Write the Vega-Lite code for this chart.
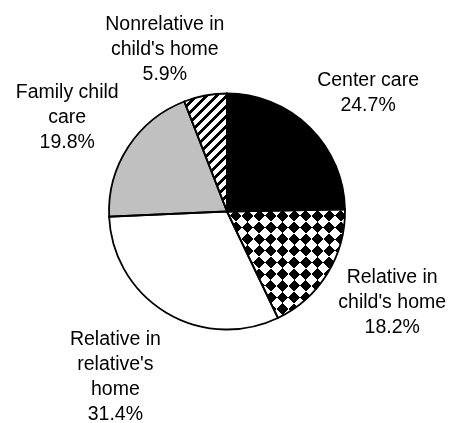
{
  "$schema": "https://vega.github.io/schema/vega-lite/v6.json",
  "width": 448,
  "height": 423,
  "padding": {"left": 3, "right": 0, "top": 0, "bottom": 0},
  "autosize": {"type": "none"},
  "background": "white",
  "view": {"stroke": null},
  "config": {"text": {"font": "Liberation Sans"}},
  "data": {
    "values": [
      {"label": "Center care", "pct": 24.7, "order": 1},
      {"label": "Relative in|child's home", "pct": 18.2, "order": 2},
      {"label": "Relative in|relative's|home", "pct": 31.4, "order": 3},
      {"label": "Family child|care", "pct": 19.8, "order": 4},
      {"label": "Nonrelative in|child's home", "pct": 5.9, "order": 5}
    ]
  },
  "transform": [
    {"stack": "pct", "groupby": [], "sort": [{"field": "order", "order": "ascending"}], "as": ["t0", "t1"]},
    {"calculate": "(datum.t0 + datum.t1) / 2", "as": "mid"},
    {"calculate": "datum.label + '|' + format(datum.pct, '.1f') + '%'", "as": "txt"}
  ],
  "layer": [
    {
      "mark": {
        "type": "arc", "radius": 118, "strokeWidth": 0,
        "fill": {
          "gradient": "linear", "x1": 0, "y1": 0, "x2": 1, "y2": 1,
          "stops": [
            {"offset": 0, "color": "#ffffff"},
            {"offset": 0.46596, "color": "#ffffff"}, {"offset": 0.46596, "color": "#000000"}, {"offset": 0.49068, "color": "#000000"}, {"offset": 0.49068, "color": "#ffffff"},
            {"offset": 0.51540, "color": "#ffffff"}, {"offset": 0.51540, "color": "#000000"}, {"offset": 0.54013, "color": "#000000"}, {"offset": 0.54013, "color": "#ffffff"},
            {"offset": 0.56485, "color": "#ffffff"}, {"offset": 0.56485, "color": "#000000"}, {"offset": 0.58958, "color": "#000000"}, {"offset": 0.58958, "color": "#ffffff"},
            {"offset": 0.61430, "color": "#ffffff"}, {"offset": 0.61430, "color": "#000000"}, {"offset": 0.63903, "color": "#000000"}, {"offset": 0.63903, "color": "#ffffff"},
            {"offset": 0.66375, "color": "#ffffff"}, {"offset": 0.66375, "color": "#000000"}, {"offset": 0.68847, "color": "#000000"}, {"offset": 0.68847, "color": "#ffffff"},
            {"offset": 0.71320, "color": "#ffffff"}, {"offset": 0.71320, "color": "#000000"}, {"offset": 0.73792, "color": "#000000"}, {"offset": 0.73792, "color": "#ffffff"},
            {"offset": 0.76265, "color": "#ffffff"}, {"offset": 0.76265, "color": "#000000"}, {"offset": 0.78737, "color": "#000000"}, {"offset": 0.78737, "color": "#ffffff"},
            {"offset": 0.81210, "color": "#ffffff"}, {"offset": 0.81210, "color": "#000000"}, {"offset": 0.83682, "color": "#000000"}, {"offset": 0.83682, "color": "#ffffff"},
            {"offset": 0.86154, "color": "#ffffff"}, {"offset": 0.86154, "color": "#000000"}, {"offset": 0.88627, "color": "#000000"}, {"offset": 0.88627, "color": "#ffffff"},
            {"offset": 0.91099, "color": "#ffffff"}, {"offset": 0.91099, "color": "#000000"}, {"offset": 0.93572, "color": "#000000"}, {"offset": 0.93572, "color": "#ffffff"},
            {"offset": 0.96044, "color": "#ffffff"}, {"offset": 0.96044, "color": "#000000"}, {"offset": 0.98517, "color": "#000000"}, {"offset": 0.98517, "color": "#ffffff"},
            {"offset": 1, "color": "#ffffff"}
          ]
        }
      },
      "encoding": {
        "theta": {"aggregate": "sum", "field": "pct", "type": "quantitative", "scale": {"domain": [0, 100]}}
      }
    },
    {
      "mark": {
        "type": "arc", "radius": 118, "strokeWidth": 0, "blend": "difference",
        "fill": {
          "gradient": "linear", "x1": 0, "y1": 1, "x2": 1, "y2": 0,
          "stops": [
            {"offset": 0, "color": "#ffffff"},
            {"offset": 0.34884, "color": "#ffffff"}, {"offset": 0.34884, "color": "#000000"}, {"offset": 0.37356, "color": "#000000"}, {"offset": 0.37356, "color": "#ffffff"},
            {"offset": 0.39829, "color": "#ffffff"}, {"offset": 0.39829, "color": "#000000"}, {"offset": 0.42301, "color": "#000000"}, {"offset": 0.42301, "color": "#ffffff"},
            {"offset": 0.44774, "color": "#ffffff"}, {"offset": 0.44774, "color": "#000000"}, {"offset": 0.47246, "color": "#000000"}, {"offset": 0.47246, "color": "#ffffff"},
            {"offset": 0.49719, "color": "#ffffff"}, {"offset": 0.49719, "color": "#000000"}, {"offset": 0.52191, "color": "#000000"}, {"offset": 0.52191, "color": "#ffffff"},
            {"offset": 0.54664, "color": "#ffffff"}, {"offset": 0.54664, "color": "#000000"}, {"offset": 0.57136, "color": "#000000"}, {"offset": 0.57136, "color": "#ffffff"},
            {"offset": 0.59608, "color": "#ffffff"}, {"offset": 0.59608, "color": "#000000"}, {"offset": 0.62081, "color": "#000000"}, {"offset": 0.62081, "color": "#ffffff"},
            {"offset": 0.64553, "color": "#ffffff"}, {"offset": 0.64553, "color": "#000000"}, {"offset": 0.67026, "color": "#000000"}, {"offset": 0.67026, "color": "#ffffff"},
            {"offset": 0.69498, "color": "#ffffff"}, {"offset": 0.69498, "color": "#000000"}, {"offset": 0.71971, "color": "#000000"}, {"offset": 0.71971, "color": "#ffffff"},
            {"offset": 0.74443, "color": "#ffffff"}, {"offset": 0.74443, "color": "#000000"}, {"offset": 0.76915, "color": "#000000"}, {"offset": 0.76915, "color": "#ffffff"},
            {"offset": 0.79388, "color": "#ffffff"}, {"offset": 0.79388, "color": "#000000"}, {"offset": 0.81860, "color": "#000000"}, {"offset": 0.81860, "color": "#ffffff"},
            {"offset": 1, "color": "#ffffff"}
          ]
        }
      },
      "encoding": {
        "theta": {"aggregate": "sum", "field": "pct", "type": "quantitative", "scale": {"domain": [0, 100]}}
      }
    },
    {
      "transform": [{"filter": "datum.order == 1 || datum.order == 3 || datum.order == 4"}],
      "mark": {"type": "arc", "radius": 118, "strokeWidth": 0},
      "encoding": {
        "theta": {"field": "t0", "type": "quantitative", "scale": {"domain": [0, 100]}},
        "theta2": {"field": "t1"},
        "fill": {
          "field": "label", "type": "nominal", "legend": null,
          "scale": {"domain": ["Center care", "Relative in|relative's|home", "Family child|care"], "range": ["#000000", "#ffffff", "#c0c0c0"]}
        }
      }
    },
    {
      "transform": [{"filter": "datum.order == 5"}],
      "mark": {
        "type": "arc", "radius": 118, "strokeWidth": 0,
        "fill": {
          "gradient": "linear", "x1": 0, "y1": 0, "x2": 0.43627, "y2": 1.20421,
          "stops": [
            {"offset": 0, "color": "#ffffff"},
            {"offset": 0.018663, "color": "#ffffff"}, {"offset": 0.018663, "color": "#000000"}, {"offset": 0.044791, "color": "#000000"}, {"offset": 0.044791, "color": "#ffffff"},
            {"offset": 0.080871, "color": "#ffffff"}, {"offset": 0.080871, "color": "#000000"}, {"offset": 0.106999, "color": "#000000"}, {"offset": 0.106999, "color": "#ffffff"},
            {"offset": 0.143079, "color": "#ffffff"}, {"offset": 0.143079, "color": "#000000"}, {"offset": 0.169207, "color": "#000000"}, {"offset": 0.169207, "color": "#ffffff"},
            {"offset": 0.205287, "color": "#ffffff"}, {"offset": 0.205287, "color": "#000000"}, {"offset": 0.231415, "color": "#000000"}, {"offset": 0.231415, "color": "#ffffff"},
            {"offset": 0.267495, "color": "#ffffff"}, {"offset": 0.267495, "color": "#000000"}, {"offset": 0.293623, "color": "#000000"}, {"offset": 0.293623, "color": "#ffffff"},
            {"offset": 0.329703, "color": "#ffffff"}, {"offset": 0.329703, "color": "#000000"}, {"offset": 0.355831, "color": "#000000"}, {"offset": 0.355831, "color": "#ffffff"},
            {"offset": 0.391911, "color": "#ffffff"}, {"offset": 0.391911, "color": "#000000"}, {"offset": 0.418039, "color": "#000000"}, {"offset": 0.418039, "color": "#ffffff"},
            {"offset": 0.454119, "color": "#ffffff"}, {"offset": 0.454119, "color": "#000000"}, {"offset": 0.480247, "color": "#000000"}, {"offset": 0.480247, "color": "#ffffff"},
            {"offset": 0.516327, "color": "#ffffff"}, {"offset": 0.516327, "color": "#000000"}, {"offset": 0.542455, "color": "#000000"}, {"offset": 0.542455, "color": "#ffffff"},
            {"offset": 0.578535, "color": "#ffffff"}, {"offset": 0.578535, "color": "#000000"}, {"offset": 0.604663, "color": "#000000"}, {"offset": 0.604663, "color": "#ffffff"},
            {"offset": 0.640743, "color": "#ffffff"}, {"offset": 0.640743, "color": "#000000"}, {"offset": 0.666871, "color": "#000000"}, {"offset": 0.666871, "color": "#ffffff"},
            {"offset": 0.702951, "color": "#ffffff"}, {"offset": 0.702951, "color": "#000000"}, {"offset": 0.729079, "color": "#000000"}, {"offset": 0.729079, "color": "#ffffff"},
            {"offset": 0.765159, "color": "#ffffff"}, {"offset": 0.765159, "color": "#000000"}, {"offset": 0.791287, "color": "#000000"}, {"offset": 0.791287, "color": "#ffffff"},
            {"offset": 0.827367, "color": "#ffffff"}, {"offset": 0.827367, "color": "#000000"}, {"offset": 0.853495, "color": "#000000"}, {"offset": 0.853495, "color": "#ffffff"},
            {"offset": 0.889575, "color": "#ffffff"}, {"offset": 0.889575, "color": "#000000"}, {"offset": 0.915703, "color": "#000000"}, {"offset": 0.915703, "color": "#ffffff"},
            {"offset": 0.951783, "color": "#ffffff"}, {"offset": 0.951783, "color": "#000000"}, {"offset": 0.977911, "color": "#000000"}, {"offset": 0.977911, "color": "#ffffff"},
            {"offset": 1, "color": "#ffffff"}
          ]
        }
      },
      "encoding": {
        "theta": {"field": "t0", "type": "quantitative", "scale": {"domain": [0, 100]}},
        "theta2": {"field": "t1"}
      }
    },
    {
      "mark": {"type": "arc", "radius": 118, "fill": "#ffffff", "fillOpacity": 0, "stroke": "#000000", "strokeWidth": 1.8},
      "encoding": {
        "theta": {"field": "t0", "type": "quantitative", "scale": {"domain": [0, 100]}},
        "theta2": {"field": "t1"}
      }
    },
    {
      "transform": [{"filter": "datum.order == 1"}],
      "mark": {"type": "text", "radius": 180, "dx": 15, "dy": -3, "align": "center", "baseline": "middle", "fontSize": 19.5, "lineHeight": 25, "lineBreak": "|", "font": "Liberation Sans", "color": "#000000"},
      "encoding": {
        "theta": {"field": "mid", "type": "quantitative", "scale": {"domain": [0, 100]}},
        "text": {"field": "txt"}
      }
    },
    {
      "transform": [{"filter": "datum.order == 2"}],
      "mark": {"type": "text", "radius": 180, "dx": 12, "dy": -29, "align": "center", "baseline": "middle", "fontSize": 19.5, "lineHeight": 25, "lineBreak": "|", "font": "Liberation Sans", "color": "#000000"},
      "encoding": {
        "theta": {"field": "mid", "type": "quantitative", "scale": {"domain": [0, 100]}},
        "text": {"field": "txt"}
      }
    },
    {
      "transform": [{"filter": "datum.order == 3"}],
      "mark": {"type": "text", "radius": 180, "dx": -19, "dy": -27, "align": "center", "baseline": "middle", "fontSize": 19.5, "lineHeight": 25, "lineBreak": "|", "font": "Liberation Sans", "color": "#000000"},
      "encoding": {
        "theta": {"field": "mid", "type": "quantitative", "scale": {"domain": [0, 100]}},
        "text": {"field": "txt"}
      }
    },
    {
      "transform": [{"filter": "datum.order == 4"}],
      "mark": {"type": "text", "radius": 180, "dx": -9, "dy": -21, "align": "center", "baseline": "middle", "fontSize": 19.5, "lineHeight": 25, "lineBreak": "|", "font": "Liberation Sans", "color": "#000000"},
      "encoding": {
        "theta": {"field": "mid", "type": "quantitative", "scale": {"domain": [0, 100]}},
        "text": {"field": "txt"}
      }
    },
    {
      "transform": [{"filter": "datum.order == 5"}],
      "mark": {"type": "text", "radius": 180, "dx": -29, "dy": -11, "align": "center", "baseline": "middle", "fontSize": 19.5, "lineHeight": 25, "lineBreak": "|", "font": "Liberation Sans", "color": "#000000"},
      "encoding": {
        "theta": {"field": "mid", "type": "quantitative", "scale": {"domain": [0, 100]}},
        "text": {"field": "txt"}
      }
    }
  ]
}
